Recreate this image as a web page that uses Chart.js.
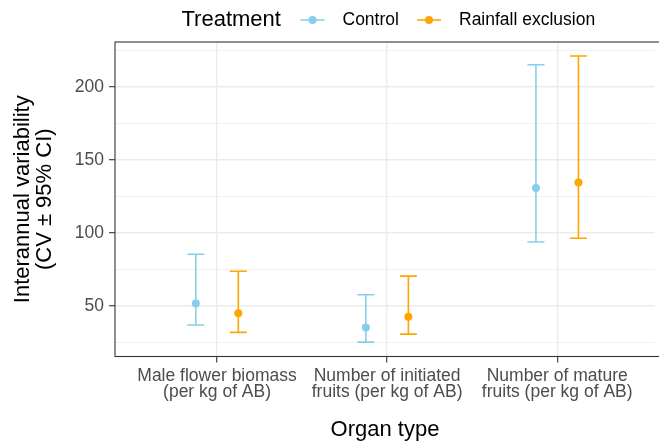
<!DOCTYPE html>
<html>
<head>
<meta charset="utf-8">
<script src="https://cdn.jsdelivr.net/npm/chart.js@4"></script>
<style>
html, body { margin: 0; padding: 0; background: #fff; overflow: hidden; }
</style>
</head>
<body>
<canvas id="chart" width="659" height="442"></canvas>
<script>
// organ types, one label per x position (two lines each)
var categories = [
    ["Male flower biomass", "(per kg of AB)"],
    ["Number of initiated", "fruits (per kg of AB)"],
    ["Number of mature", "fruits (per kg of AB)"]
];
var treatments = ["Control", "Rainfall exclusion"];

// CV and 95% CI
var controlMean = [51.8, 35.4, 130.8];
var controlLow = [37.0, 25.3, 93.8];
var controlHigh = [85.4, 57.7, 215.0];
var rainMean = [45.0, 42.7, 134.5];
var rainLow = [32.0, 30.8, 96.4];
var rainHigh = [73.8, 70.5, 221.0];

var yTicks = [25, 50, 75, 100, 125, 150, 175, 200, 225];
var xTicks = [1, 2, 3];

var colors = ["#87CEEB", "#FFA500"];
var dodge = 0.125;
var capHalf = 0.05;
var font = "'Liberation Sans', Arial, sans-serif";

function points(means, shift) {
    return means.map(function(m, i) {
        return { x: i + 1 + shift, y: m };
    });
}

var errorBars = {
    id: 'errorBars',
    beforeDatasetsDraw: function(chart) {
        var ctx = chart.ctx;
        var xs = chart.scales.x, ys = chart.scales.y;
        chart.data.datasets.forEach(function(ds) {
            ctx.save();
            ctx.strokeStyle = ds.borderColor;
            ctx.lineWidth = 1.6;
            ds.data.forEach(function(p, i) {
                var x = xs.getPixelForValue(p.x);
                var x0 = xs.getPixelForValue(p.x - capHalf);
                var x1 = xs.getPixelForValue(p.x + capHalf);
                var yl = ys.getPixelForValue(ds.low[i]);
                var yh = ys.getPixelForValue(ds.high[i]);
                ctx.beginPath();
                ctx.moveTo(x, yl); ctx.lineTo(x, yh);
                ctx.moveTo(x0, yl); ctx.lineTo(x1, yl);
                ctx.moveTo(x0, yh); ctx.lineTo(x1, yh);
                ctx.stroke();
            });
            ctx.restore();
        });
    }
};

var panelBorder = {
    id: 'panelBorder',
    afterDatasetsDraw: function(chart) {
        var a = chart.chartArea, ctx = chart.ctx;
        ctx.save();
        ctx.strokeStyle = "#333333";
        ctx.lineWidth = 1.1;
        ctx.strokeRect(a.left, a.top, a.right - a.left + 20, a.bottom - a.top);
        ctx.restore();
    }
};

// ggplot style legend: title and keys on one row
var topLegend = {
    id: 'topLegend',
    afterDraw: function(chart) {
        var ctx = chart.ctx;
        var y = 20;
        ctx.save();
        ctx.textBaseline = "middle";
        ctx.textAlign = "left";
        ctx.fillStyle = "#000";
        ctx.font = "22px " + font;
        ctx.fillText("Treatment", 181.5, y);
        var keyX = [312.5, 429];
        ctx.font = "17.5px " + font;
        treatments.forEach(function(t, i) {
            ctx.strokeStyle = colors[i];
            ctx.lineWidth = 1.6;
            ctx.beginPath();
            ctx.moveTo(keyX[i] - 12, y); ctx.lineTo(keyX[i] + 12, y);
            ctx.stroke();
            ctx.fillStyle = colors[i];
            ctx.beginPath();
            ctx.arc(keyX[i], y, 4, 0, Math.PI * 2);
            ctx.fill();
            ctx.fillStyle = "#000";
            ctx.fillText(t, keyX[i] + 30, y);
        });
        ctx.restore();
    }
};

var chart = new Chart(document.getElementById("chart"), {
    type: 'scatter',
    data: {
        datasets: [
            {
                label: treatments[0],
                data: points(controlMean, -dodge),
                low: controlLow,
                high: controlHigh,
                backgroundColor: colors[0],
                borderColor: colors[0],
                pointRadius: 4,
                pointBorderWidth: 0
            },
            {
                label: treatments[1],
                data: points(rainMean, dodge),
                low: rainLow,
                high: rainHigh,
                backgroundColor: colors[1],
                borderColor: colors[1],
                pointRadius: 4,
                pointBorderWidth: 0
            }
        ]
    },
    options: {
        responsive: false,
        animation: false,
        events: [],
        layout: { padding: { top: 42, left: 0, right: 0, bottom: 0 } },
        plugins: {
            legend: { display: false },
            tooltip: { enabled: false }
        },
        scales: {
            x: {
                type: 'linear',
                min: 0.4,
                max: 3.575,
                afterBuildTicks: function(scale) {
                    scale.ticks = xTicks.map(function(v) { return { value: v }; });
                },
                afterFit: function(scale) { scale.height = 85.5; },
                border: { display: false },
                grid: {
                    color: "#EBEBEB",
                    lineWidth: 1.4,
                    tickLength: 6,
                    tickColor: "#333333",
                    tickWidth: 1.1
                },
                ticks: {
                    color: "#4D4D4D",
                    padding: 5,
                    maxRotation: 0,
                    autoSkip: false,
                    font: { family: font, size: 17.5, lineHeight: 0.95 },
                    callback: function(v) { return categories[Math.round(v) - 1]; }
                },
                title: {
                    display: true,
                    text: "Organ type",
                    color: "#000",
                    padding: { top: 0, bottom: 1 },
                    font: { family: font, size: 22, lineHeight: 1.0 }
                }
            },
            y: {
                min: 15.5,
                max: 230.6,
                afterBuildTicks: function(scale) {
                    scale.ticks = yTicks.map(function(v) { return { value: v }; });
                },
                afterFit: function(scale) { scale.width = 115; },
                border: { display: false },
                grid: {
                    color: "#EBEBEB",
                    lineWidth: function(c) { return c.tick && c.tick.value % 50 === 0 ? 1.4 : 0.7; },
                    tickLength: 6,
                    tickColor: function(c) { return c.tick && c.tick.value % 50 === 0 ? "#333333" : "rgba(0,0,0,0)"; },
                    tickWidth: 1.1
                },
                ticks: {
                    color: "#4D4D4D",
                    padding: 5,
                    autoSkip: false,
                    font: { family: font, size: 17.5 },
                    callback: function(v) { return v % 50 === 0 ? String(v) : ""; }
                },
                title: {
                    display: true,
                    text: ["Interannual variability", "(CV \u00B1 95% CI)"],
                    color: "#000",
                    padding: { top: 12, bottom: 0 },
                    font: { family: font, size: 22, lineHeight: 1.0 }
                }
            }
        }
    },
    plugins: [errorBars, panelBorder, topLegend]
});
</script>
</body>
</html>
